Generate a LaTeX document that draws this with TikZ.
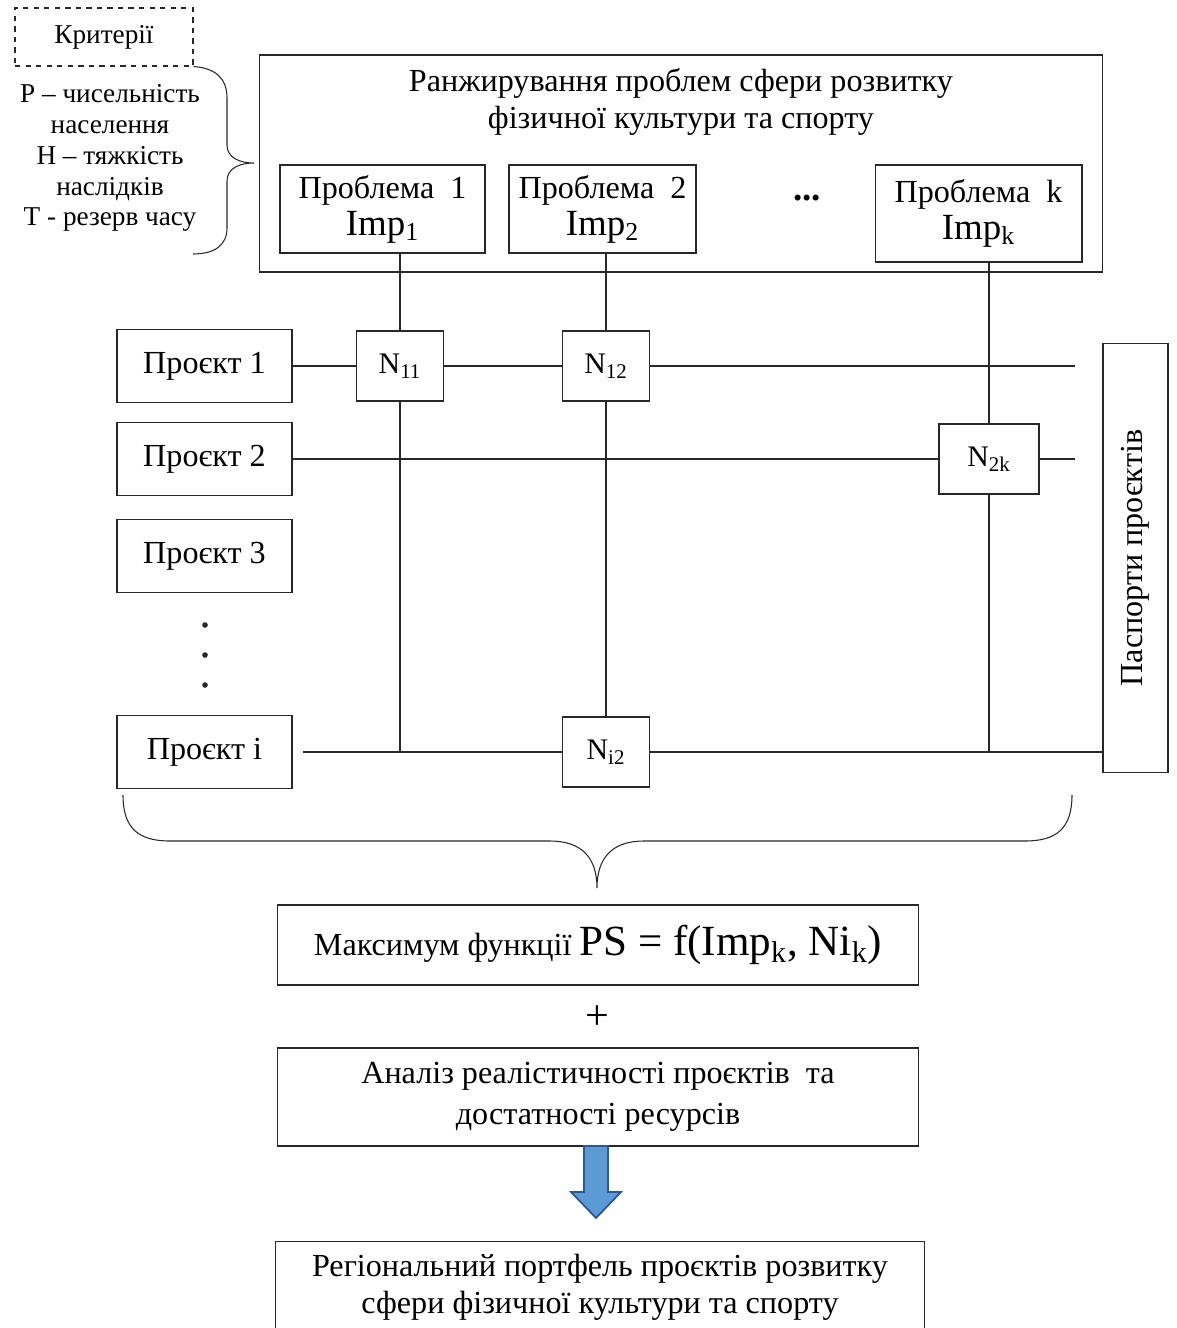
\documentclass[tikz,border=0pt]{standalone}
\usepackage{fontspec}
\setmainfont{Liberation Serif}
\usetikzlibrary{positioning,calc,decorations.pathreplacing}
\definecolor{arrblue}{RGB}{91,155,213}
\definecolor{arredge}{RGB}{47,85,151}
\definecolor{lnk}{RGB}{40,40,40}
\newcommand{\bigf}{\fontsize{21}{24}\selectfont}
\newcommand{\psf}{\fontsize{24.5}{27}\selectfont}
\newcommand{\txtf}{\fontsize{18.3}{21}\selectfont}
\tikzset{
  box/.style={draw=lnk, line width=0.6pt, align=center, inner sep=2pt, font=\txtf},
  prj/.style={box, minimum width=3.5cm, minimum height=1.46cm},
  nbox/.style={box, minimum width=1.74cm, minimum height=1.4cm, font=\fontsize{17}{20}\selectfont},
  pbox/.style={box, minimum width=#1, minimum height=1.76cm},
  wide/.style={box, minimum width=12.84cm},
  link/.style={lnk, line width=0.6pt},
}

\begin{document}
\begin{tikzpicture}[x=0.02cm, y=-0.02cm]
  \useasboundingbox (0,0) rectangle (1176,1328);

  % criteria
  \node[box, dashed, minimum width=3.56cm, minimum height=1.16cm, font=\fontsize{15.5}{18}\selectfont] (crit) at (104,37) {Критерії};
  \node[align=center, font=\fontsize{15.5}{17.6}\selectfont] (critl) at (110,158)
    {P – чисельність\\населення\\H – тяжкість\\наслідків\\T - резерв часу};
  \draw[link] (crit.south east) .. controls (215,68) and (227,78) .. (227,98) -- (227,145)
    .. controls (227,158) and (240,163) .. (254,163)
    .. controls (240,163) and (227,168) .. (227,181) -- (227,228)
    .. controls (227,245) and (215,254) .. (193,254);

  % ranking of problems
  \node[box, minimum width=16.88cm, minimum height=4.34cm] (rank) at (681,163.5) {};
  \node[align=center, font=\txtf] (rankt) at (681,102)
    {Ранжирування проблем сфери розвитку\\фізичної культури та спорту};
  \node[pbox=4.1cm] (p1) at (382.5,209) {Проблема\ \ 1\\{\bigf Imp\textsubscript{1}}};
  \node[pbox=3.74cm] (p2) at (602.5,209) {Проблема\ \ 2\\{\bigf Imp\textsubscript{2}}};
  \node[pbox=4.14cm, minimum height=1.94cm] (pk) at (978.5,213.5) {Проблема\ \ k\\{\bigf Imp\textsubscript{k}}};
  \node[font=\bigf] (dots) at (807,198) {\textbf{...}};

  % projects
  \node[prj] (pr1) at (204.5,366) {Проєкт 1};
  \node[prj] (pr2) at (204.5,459) {Проєкт 2};
  \node[prj] (pr3) at (204.5,556) {Проєкт 3};
  \node[prj] (pri) at (204.5,752) {Проєкт і};
  \foreach \y in {625,655,685} \fill[lnk] (205,\y) circle (1.6pt);

  \node[nbox] (n11) at (400,366) {N\textsubscript{11}};
  \node[nbox] (n12) at (606,366) {N\textsubscript{12}};
  \node[nbox, minimum width=2cm] (n2k) at (989,459) {N\textsubscript{2k}};
  \node[nbox] (ni2) at (606,752) {N\textsubscript{i2}};

  \node[box, minimum width=1.3cm, minimum height=8.6cm] (pasp) at (1135.5,558) {};
  \node[rotate=90, font=\txtf] (paspt) at (pasp.center) {Паспорти проєктів};

  \coordinate (e1) at (1075,366);
  \coordinate (e2) at (1075,459);
  \coordinate (ri) at (303,752);

  \draw[link] (pr1) -- (n11) (n11) -- (n12) (n12) -- (e1);
  \draw[link] (pr2) -- (n2k) (n2k) -- (e2);
  \draw[link] (ri) -- (ni2) (ni2) -- (ni2 -| pasp.west);
  \draw[link] (p1.south -| n11) -- (n11.north);
  \draw[link] (n11.south) -- (n11 |- ri);
  \draw[link] (p2.south -| n12) -- (n12.north);
  \draw[link] (n12.south) -- (ni2.north);
  \draw[link] (pk.south -| n2k) -- (n2k.north);
  \draw[link] (n2k.south) -- (n2k |- ri);

  % brace under the projects
  \draw[link] (123,795) .. controls (123,828) and (138,841) .. (170,841) -- (550,841)
    .. controls (582,841) and (597,858) .. (597,888)
    .. controls (597,858) and (612,841) .. (644,841) -- (1025,841)
    .. controls (1057,841) and (1072,828) .. (1072,795);

  % result
  \node[wide, minimum height=1.6cm] (mx) at (598,945)
    {Максимум функції {\psf PS = f(Imp\textsubscript{k}, Ni\textsubscript{k})}};
  \node[font=\fontsize{24}{26}\selectfont] (plus) at (597,1018) {+};
  \node[wide, minimum height=1.96cm] (anl) at (598,1097)
    {Аналіз реалістичності проєктів\ \ та\\[2pt]достатності ресурсів};
  \fill[arrblue, draw=arredge, line width=1pt] (584,1146) -- (608,1146) -- (608,1192)
    -- (621,1192) -- (596,1218) -- (571,1192) -- (584,1192) -- cycle;
  \node[wide, draw=none, minimum width=12.96cm, minimum height=1.8cm] (reg) at (600,1287)
    {Регіональний портфель проєктів розвитку\\сфери фізичної культури та спорту};
  \draw[link] (reg.south west) |- (reg.north east) -- (reg.south east);
\end{tikzpicture}
\end{document}
